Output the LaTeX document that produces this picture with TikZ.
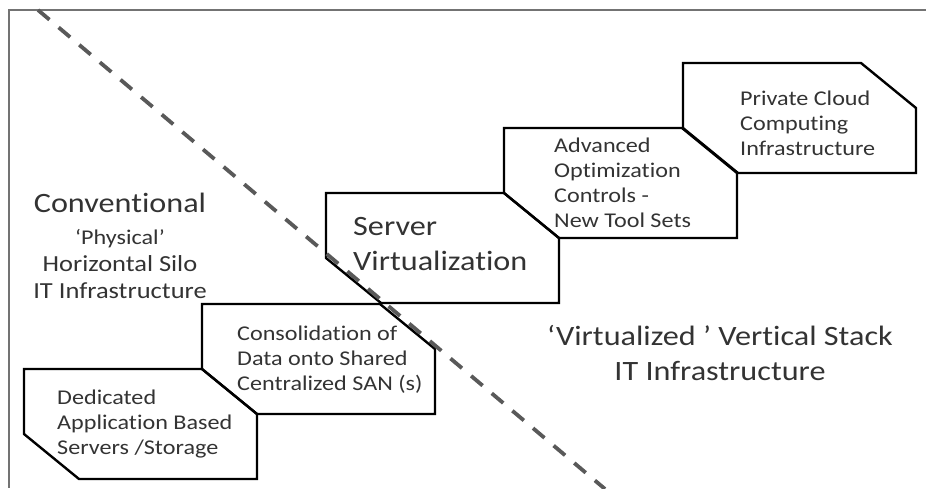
\documentclass[tikz,border=0pt]{standalone}
\usepackage{fontspec}
\setmainfont{Carlito}[FakeStretch=1.15, Ligatures=NoCommon]
\usepackage{tikz}

\begin{document}
\begin{tikzpicture}[x=1pt,y=-1pt]
        \tikzset{StepStyle/.style={draw=black, line width=2.4pt, line join=miter},
          StepText/.style={inner sep=0pt, text=black!80, align=left, anchor=base west,
            font=\fontsize{21}{25}\selectfont},
          BigText/.style={inner sep=0pt, text=black!80, align=center, anchor=base,
            font=\fontsize{28}{35}\selectfont}}
        \useasboundingbox (0,0) rectangle (926,488);
        \draw[line width=2.5pt, black!55] (926,10) -- (9,10) -- (9,488);
        % the five steps, each one up and to the right of the last
        \foreach \n/\x/\y in {1/24/369, 2/202/304, 3/326/193, 4/504/128, 5/683/63}{
          \coordinate (S\n) at (\x,\y);
          \draw[StepStyle] (S\n) -- ++(178,0) -- ++(55,45) -- ++(0,65)
            -- ++(-178,0) -- ++(-55,-45) -- cycle;
        }
        % text nodes sit on the baseline of their last line
        \node[StepText] (T1) at ([shift={(33,85)}]S1) {Dedicated\\Application Based\\Servers /Storage};
        \node[StepText] (T2) at ([shift={(35,86)}]S2) {Consolidation of\\Data onto Shared\\Centralized SAN (s)};
        \node[StepText, font=\fontsize{28}{35}\selectfont] (T3) at ([shift={(27,77)}]S3) {Server\\Virtualization};
        \node[StepText] (T4) at ([shift={(50,99)}]S4) {Advanced\\Optimization\\Controls  -\\New Tool Sets};
        \node[StepText] (T5) at ([shift={(57,92)}]S5) {Private Cloud\\Computing\\Infrastructure};
        \node[BigText, font=\fontsize{23}{27}\selectfont] (Phys) at (120,298)
          {{\fontsize{28}{28}\selectfont Conventional}\\[5pt]
           {\fontsize{21}{25}\selectfont ‘Physical’}\\Horizontal Silo\\IT Infrastructure};
        \node[BigText] (Virt) at (720,380) {‘Virtualized ’ Vertical Stack\\IT Infrastructure};
        \coordinate (CutA) at (38,10);
        \coordinate (CutB) at (605,489);
        \draw[line width=3.8pt, black!65, dash pattern=on 15pt off 12pt] (CutA) -- (CutB);
\end{tikzpicture}
\end{document}
